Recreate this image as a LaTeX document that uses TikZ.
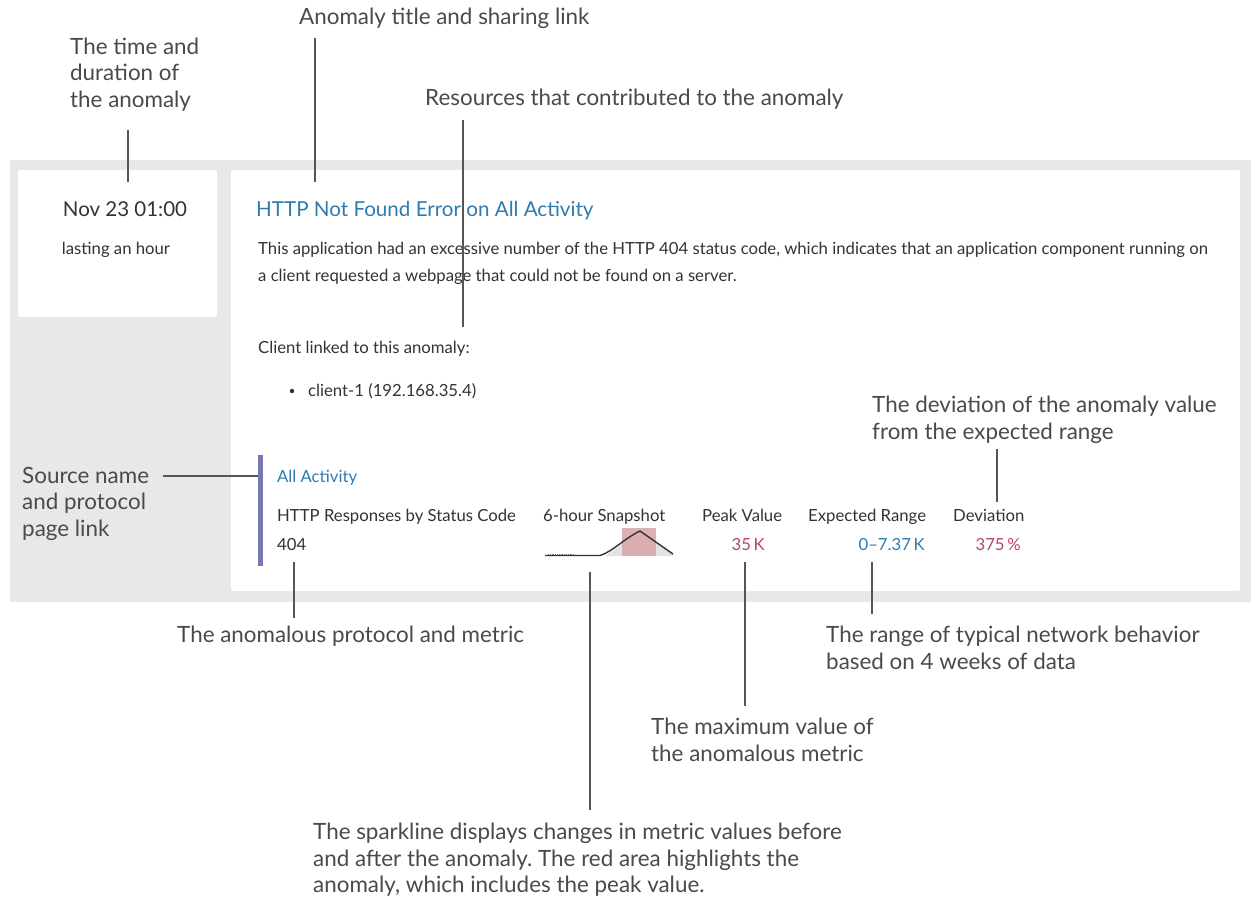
\documentclass[tikz,border=0pt]{standalone}
\usepackage{fontspec}
\setmainfont{Lato}
\frenchspacing
\definecolor{panelgray}{HTML}{E8E8E8}
\definecolor{uitext}{HTML}{333333}
\definecolor{anntext}{HTML}{4A4A4A}
\definecolor{linkblue}{HTML}{2E7BAF}
\definecolor{valred}{HTML}{B5475E}
\definecolor{barpurple}{HTML}{7678B2}
\definecolor{conncol}{HTML}{555555}
\definecolor{redarea}{HTML}{D9A9AE}
\definecolor{sparkfill}{HTML}{E3E3E3}
\tikzset{
  ui/.style={inner sep=0pt, anchor=mid west, text=uitext, font=\fontsize{16.7}{19}\selectfont},
  uival/.style={inner sep=0pt, anchor=mid east, font=\fontsize{16.7}{19}\selectfont},
  ann/.style={inner sep=0pt, anchor=north west, align=left, text=anntext, font=\fontsize{22.4}{26.3}\selectfont},
  annone/.style={inner sep=0pt, anchor=mid west, text=anntext, font=\fontsize{22.4}{26}\selectfont},
  conn/.style={draw=conncol, line width=1.3pt},
}
\begin{document}
\begin{tikzpicture}[x=1pt,y=-1pt]
\useasboundingbox (0,0) rectangle (1251,899);
\fill[white] (0,0) rectangle (1251,899);
% panels
\fill[panelgray] (10,160) rectangle (1251,602);
\fill[white, rounded corners=2pt] (18,170) rectangle (217,317);
\fill[white, rounded corners=2pt] (231,170) rectangle (1240,591);
% left box
\node[inner sep=0pt, text=uitext, font=\fontsize{20.5}{24}\selectfont, anchor=mid] (time) at (125,214) {Nov 23 01:00};
\node[inner sep=0pt, text=uitext, font=\fontsize{16.7}{19}\selectfont, anchor=mid] (last) at (116,252) {lasting an hour};
% right box
\node[inner sep=0pt, anchor=mid west, text=linkblue, font=\fontsize{20.6}{24}\selectfont] (title) at (256,214) {HTTP Not Found Error on All Activity};
\node[ui] (desc1) at (258,252) {This application had an excessive number of the HTTP 404 status code, which indicates that an application component running on};
\node[ui] (desc2) at (258,279) {a client requested a webpage that could not be found on a server.};
\node[ui] (client) at (258,351) {Client linked to this anomaly:};
\fill[uitext] (292,391) circle (2.2pt);
\node[ui] (client1) at (308,394) {client-1 (192.168.35.4)};
% source section
\fill[barpurple] (258,455) rectangle (263,566);
\node[ui, text=linkblue] (src) at (277,480) {All Activity};
\node[ui] (metric) at (277,519) {HTTP Responses by Status Code};
\node[ui] (code) at (277,548) {404};
\node[ui] (snap) at (543,519) {6-hour Snapshot};
\node[ui] (peakh) at (702,519) {Peak Value};
\node[ui] (rangeh) at (808,519) {Expected Range};
\node[ui] (devh) at (953,519) {Deviation};
\node[uival, text=valred] (peakv) at (765,548) {35\,K};
\node[uival, text=linkblue] (rangev) at (925,548) {0–7.37\,K};
\node[uival, text=valred] (devv) at (1021,548) {375\,\%};
% sparkline
\fill[sparkfill] (605,556) .. controls (618,548) and (628,538) .. (640,531) -- (673,554) -- (673,556) -- cycle;
\fill[redarea, opacity=0.9] (622,528) rectangle (656,556);
\draw[uitext, line width=1.4pt, line join=round] (545,555.5) -- (600,555.5) .. controls (612,552) and (625,538) .. (640,531) -- (673,554);
\draw[black!55, line width=0.8pt, densely dotted] (548,554.5) -- (575,554.5);
% annotations
\node[ann] (a1) at (70,38) {The time and\\duration of\\the anomaly};
\node[annone] (a2) at (299,22) {Anomaly title and sharing link};
\node[annone] (a3) at (425,103) {Resources that contributed to the anomaly};
\node[ann] (a4) at (872,396) {The deviation of the anomaly value\\from the expected range};
\node[ann] (a5) at (22,467) {Source name\\and protocol\\page link};
\node[annone] (a6) at (177,640) {The anomalous protocol and metric};
\node[ann] (a7) at (826,626) {The range of typical network behavior\\based on 4 weeks of data};
\node[ann] (a8) at (651,718) {The maximum value of\\the anomalous metric};
\node[ann] (a9) at (313,823) {The sparkline displays changes in metric values before\\and after the anomaly. The red area highlights the\\anomaly, which includes the peak value.};
% connector endpoints
\coordinate (c1a) at (128,130); \coordinate (c1b) at (128,182);
\coordinate (c2a) at (315,38);  \coordinate (c2b) at (315,182);
\coordinate (c3a) at (463,120); \coordinate (c3b) at (463,327);
\coordinate (c4a) at (997,449); \coordinate (c4b) at (997,502);
\coordinate (c5a) at (163,476); \coordinate (c5b) at (258,476);
\coordinate (c6a) at (294,562); \coordinate (c6b) at (294,618);
\coordinate (c7a) at (872,562); \coordinate (c7b) at (872,614);
\coordinate (c8a) at (745,562); \coordinate (c8b) at (745,706);
\coordinate (c9a) at (590,572); \coordinate (c9b) at (590,810);
\draw[conn] (c1a) -- (c1b);
\draw[conn] (c2a) -- (c2b);
\draw[conn] (c3a) -- (c3b);
\draw[conn] (c4a) -- (c4b);
\draw[conn] (c5a) -- (c5b);
\draw[conn] (c6a) -- (c6b);
\draw[conn] (c7a) -- (c7b);
\draw[conn] (c8a) -- (c8b);
\draw[conn] (c9a) -- (c9b);
\end{tikzpicture}
\end{document}
